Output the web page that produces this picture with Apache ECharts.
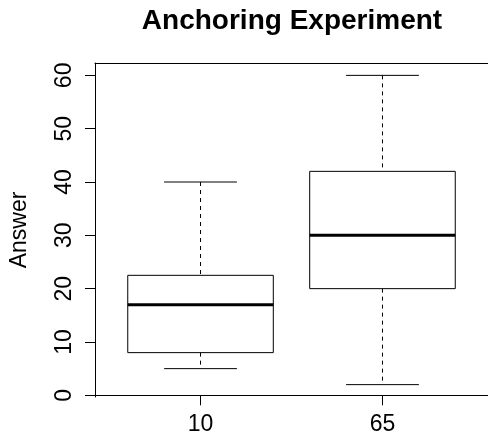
<!DOCTYPE html>
<html>
<head>
<meta charset="utf-8">
<script src="https://cdn.jsdelivr.net/npm/echarts@6/dist/echarts.min.js"></script>
<style>
  html, body { margin: 0; padding: 0; background: #fff; }
  #chart { width: 488px; height: 438px; }
</style>
</head>
<body>
<div id="chart"></div>
<script>
// anchoring groups, box stats
const categories = ['10', '65'];
const positions = [1, 2];
const lowerWhisker = [5, 2];
const q1 = [8, 20];
const median = [17, 30];
const q3 = [22.5, 42];
const upperWhisker = [40, 60];
const yTicks = [0, 10, 20, 30, 40, 50, 60];

const FONT = '"Liberation Sans", Arial, Helvetica, sans-serif';

const boxData = positions.map((p, i) => [p, lowerWhisker[i], q1[i], median[i], q3[i], upperWhisker[i]]);

const chart = echarts.init(document.getElementById('chart'));

function renderBox(params, api) {
  const x = api.value(0);
  const lo = api.coord([x, api.value(1)]);
  const b1 = api.coord([x, api.value(2)]);
  const md = api.coord([x, api.value(3)]);
  const b3 = api.coord([x, api.value(4)]);
  const hi = api.coord([x, api.value(5)]);
  const left = api.coord([x - 0.4, 0])[0];
  const right = api.coord([x + 0.4, 0])[0];
  const capL = api.coord([x - 0.2, 0])[0];
  const capR = api.coord([x + 0.2, 0])[0];
  const cx = lo[0];
  const dash = { stroke: '#000', lineWidth: 1, lineDash: [4, 4] };
  const solid = { stroke: '#000', lineWidth: 1 };
  return {
    type: 'group',
    children: [
      { type: 'line', shape: { x1: cx, y1: hi[1], x2: cx, y2: b3[1] }, style: dash },
      { type: 'line', shape: { x1: cx, y1: b1[1], x2: cx, y2: lo[1] }, style: dash },
      { type: 'line', shape: { x1: capL, y1: hi[1], x2: capR, y2: hi[1] }, style: solid },
      { type: 'line', shape: { x1: capL, y1: lo[1], x2: capR, y2: lo[1] }, style: solid },
      { type: 'rect', shape: { x: left, y: b3[1], width: right - left, height: b1[1] - b3[1] },
        style: { fill: '#fff', stroke: '#000', lineWidth: 1 } },
      { type: 'line', shape: { x1: left, y1: md[1], x2: right, y2: md[1] }, style: { stroke: '#000', lineWidth: 3 } }
    ]
  };
}

const option = {
  backgroundColor: '#fff',
  animation: false,
  title: {
    text: 'Anchoring Experiment',
    left: 287,
    top: 2,
    textAlign: 'center',
    textStyle: { fontFamily: FONT, fontSize: 28, fontWeight: 'bold', color: '#000' }
  },
  grid: { left: 93, top: 63, width: 397, height: 334 },
  xAxis: [
    {
      type: 'value',
      min: 0.42,
      max: 2.58,
      position: 'bottom',
      splitLine: { show: false },
      axisLine: { show: true, lineStyle: { color: '#000', width: 1 } },
      axisTick: { show: true, customValues: positions, length: 10, lineStyle: { color: '#000' } },
      axisLabel: {
        show: true,
        customValues: positions,
        margin: 16,
        fontFamily: FONT,
        fontSize: 23,
        color: '#000',
        formatter: v => categories[positions.indexOf(Math.round(v))]
      }
    },
    {
      type: 'value',
      min: 0.42,
      max: 2.58,
      position: 'top',
      splitLine: { show: false },
      axisLine: { show: true, lineStyle: { color: '#000', width: 1 } },
      axisTick: { show: false },
      axisLabel: { show: false }
    }
  ],
  yAxis: {
    type: 'value',
    min: -0.32,
    max: 62.32,
    name: 'Answer',
    nameLocation: 'middle',
    nameGap: 64,
    nameRotate: 90,
    nameTextStyle: { fontFamily: FONT, fontSize: 23, color: '#000' },
    splitLine: { show: false },
    axisLine: { show: true, lineStyle: { color: '#000', width: 1 } },
    axisTick: { show: true, customValues: yTicks, length: 10, lineStyle: { color: '#000' } },
    axisLabel: {
      show: true,
      customValues: yTicks,
      rotate: 90,
      margin: 19,
      fontFamily: FONT,
      fontSize: 23,
      color: '#000'
    }
  },
  series: [
    {
      type: 'custom',
      renderItem: renderBox,
      data: boxData,
      encode: { x: 0, y: [1, 2, 3, 4, 5] },
      clip: false
    }
  ]
};

chart.setOption(option);
</script>
</body>
</html>
